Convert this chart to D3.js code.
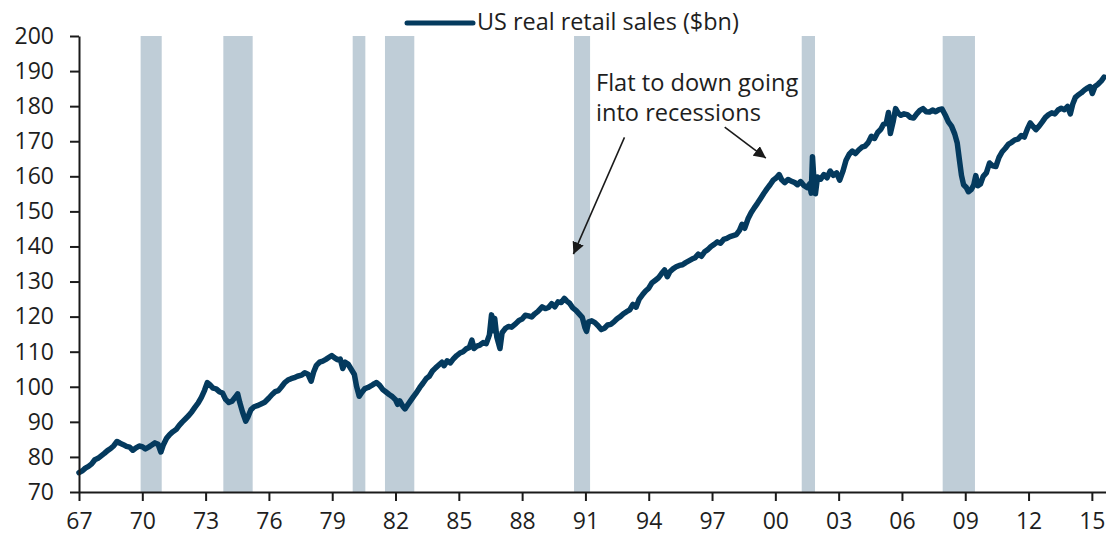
<!DOCTYPE html>
<html>
<head>
<meta charset="utf-8">
<script src="https://cdn.jsdelivr.net/npm/d3@7"></script>
<style>
  body { margin: 0; background: #fff; }
  svg text { font-family: "Open Sans", "Noto Sans", sans-serif; fill: #1e1e1e; }
</style>
</head>
<body>
<svg id="chart" width="1106" height="535"></svg>
<script>
'use strict';

// decimal years of each reading
var years = [
    1967.00, 1967.15, 1967.30, 1967.45, 1967.60, 1967.75, 1967.90, 1968.05, 1968.20, 1968.35,
    1968.50, 1968.65, 1968.80, 1968.95, 1969.10, 1969.25, 1969.40, 1969.55, 1969.70, 1969.85,
    1970.00, 1970.15, 1970.30, 1970.45, 1970.60, 1970.75, 1970.88, 1971.00, 1971.15, 1971.30,
    1971.45, 1971.60, 1971.75, 1971.90, 1972.05, 1972.20, 1972.35, 1972.50, 1972.65, 1972.80,
    1972.95, 1973.08, 1973.20, 1973.35, 1973.50, 1973.65, 1973.80, 1973.95, 1974.10, 1974.25,
    1974.40, 1974.52, 1974.62, 1974.75, 1974.90, 1975.00, 1975.15, 1975.30, 1975.45, 1975.60,
    1975.80, 1976.00, 1976.15, 1976.30, 1976.45, 1976.60, 1976.75, 1976.90, 1977.05, 1977.20,
    1977.35, 1977.55, 1977.70, 1977.85, 1978.00, 1978.12, 1978.25, 1978.40, 1978.55, 1978.70,
    1978.85, 1978.98, 1979.10, 1979.25, 1979.38, 1979.50, 1979.62, 1979.75, 1979.90, 1980.05,
    1980.15, 1980.28, 1980.40, 1980.55, 1980.70, 1980.85, 1981.00, 1981.10, 1981.25, 1981.40,
    1981.55, 1981.70, 1981.85, 1982.00, 1982.10, 1982.20, 1982.35, 1982.45, 1982.55, 1982.70,
    1982.85, 1983.00, 1983.15, 1983.30, 1983.45, 1983.60, 1983.75, 1983.90, 1984.05, 1984.20,
    1984.30, 1984.45, 1984.60, 1984.75, 1984.90, 1985.05, 1985.20, 1985.35, 1985.50, 1985.62,
    1985.72, 1985.85, 1986.00, 1986.15, 1986.30, 1986.45, 1986.55, 1986.62, 1986.70, 1986.80,
    1986.95, 1987.05, 1987.20, 1987.35, 1987.50, 1987.70, 1987.85, 1988.00, 1988.15, 1988.30,
    1988.45, 1988.60, 1988.75, 1988.95, 1989.10, 1989.25, 1989.40, 1989.55, 1989.70, 1989.85,
    1990.00, 1990.12, 1990.25, 1990.40, 1990.55, 1990.70, 1990.85, 1990.97, 1991.05, 1991.15,
    1991.30, 1991.45, 1991.60, 1991.75, 1991.90, 1992.05, 1992.20, 1992.35, 1992.50, 1992.65,
    1992.80, 1992.95, 1993.10, 1993.25, 1993.40, 1993.55, 1993.70, 1993.85, 1994.00, 1994.15,
    1994.30, 1994.45, 1994.60, 1994.75, 1994.88, 1995.00, 1995.15, 1995.30, 1995.45, 1995.60,
    1995.75, 1995.90, 1996.05, 1996.20, 1996.35, 1996.50, 1996.65, 1996.80, 1996.95, 1997.10,
    1997.25, 1997.40, 1997.55, 1997.70, 1997.85, 1998.00, 1998.15, 1998.30, 1998.42, 1998.55,
    1998.70, 1998.85, 1999.00, 1999.15, 1999.30, 1999.45, 1999.60, 1999.75, 1999.90, 2000.05,
    2000.18, 2000.30, 2000.45, 2000.60, 2000.75, 2000.90, 2001.05, 2001.20, 2001.35, 2001.50,
    2001.62, 2001.70, 2001.76, 2001.82, 2001.90, 2002.00, 2002.15, 2002.30, 2002.45, 2002.60,
    2002.75, 2002.90, 2003.05, 2003.20, 2003.35, 2003.50, 2003.65, 2003.80, 2003.95, 2004.10,
    2004.25, 2004.40, 2004.55, 2004.70, 2004.85, 2005.00, 2005.12, 2005.25, 2005.36, 2005.45,
    2005.58, 2005.70, 2005.82, 2005.95, 2006.10, 2006.25, 2006.40, 2006.55, 2006.70, 2006.85,
    2007.00, 2007.15, 2007.30, 2007.45, 2007.60, 2007.75, 2007.90, 2008.05, 2008.20, 2008.35,
    2008.50, 2008.62, 2008.72, 2008.82, 2008.92, 2009.05, 2009.15, 2009.28, 2009.40, 2009.50,
    2009.60, 2009.72, 2009.85, 2010.00, 2010.15, 2010.30, 2010.45, 2010.60, 2010.75, 2010.90,
    2011.05, 2011.20, 2011.35, 2011.50, 2011.65, 2011.80, 2011.95, 2012.08, 2012.20, 2012.35,
    2012.50, 2012.65, 2012.80, 2012.95, 2013.10, 2013.25, 2013.40, 2013.55, 2013.70, 2013.85,
    2013.98, 2014.10, 2014.22, 2014.35, 2014.50, 2014.65, 2014.80, 2014.92, 2015.02, 2015.15,
    2015.30, 2015.45, 2015.58
];

// US real retail sales, $bn
var sales = [
    75.5, 76.0, 76.8, 77.3, 78.0, 79.2, 79.6, 80.3, 81.0, 81.8,
    82.4, 83.2, 84.4, 83.9, 83.5, 83.0, 82.8, 81.9, 82.6, 83.1,
    82.9, 82.3, 82.8, 83.4, 84.0, 83.6, 81.4, 83.5, 85.3, 86.4,
    87.2, 87.8, 89.0, 90.0, 90.9, 91.8, 92.9, 94.2, 95.4, 97.0,
    99.0, 101.2, 100.6, 99.6, 99.4, 98.6, 98.2, 96.4, 95.5, 95.9,
    97.0, 98.0, 95.5, 92.8, 90.2, 91.3, 93.5, 94.3, 94.6, 95.0,
    95.6, 96.8, 97.8, 98.6, 98.9, 100.0, 101.2, 101.9, 102.3, 102.6,
    103.0, 103.3, 104.0, 103.6, 101.6, 104.2, 106.1, 107.0, 107.3, 107.8,
    108.4, 108.9, 108.3, 107.7, 107.9, 105.2, 107.0, 106.5, 105.0, 103.5,
    100.2, 97.3, 98.4, 99.5, 99.8, 100.3, 100.9, 101.2, 100.4, 99.2,
    98.5, 97.8, 97.2, 96.3, 95.0, 96.0, 94.4, 93.7, 94.6, 95.9,
    97.2, 98.4, 99.8, 101.0, 102.3, 103.0, 104.5, 105.4, 106.2, 107.0,
    106.0, 107.4, 106.8, 108.0, 108.9, 109.6, 110.0, 110.8, 111.2, 113.3,
    110.9, 111.6, 111.9, 112.6, 112.3, 114.8, 120.5, 116.0, 119.5, 114.2,
    110.9, 115.4, 116.6, 117.2, 117.0, 118.0, 118.9, 119.3, 120.4, 120.2,
    119.9, 120.8, 121.5, 122.8, 122.3, 122.6, 123.7, 122.8, 124.2, 124.0,
    125.2, 124.4, 123.8, 122.5, 121.8, 120.8, 119.8, 117.0, 115.8, 118.5,
    118.8, 118.3, 117.4, 116.3, 116.7, 117.6, 117.8, 118.5, 119.4, 120.0,
    120.8, 121.4, 121.9, 123.5, 122.7, 125.0, 126.2, 127.3, 128.1, 129.6,
    130.3, 131.0, 132.2, 133.3, 131.4, 132.8, 133.6, 134.2, 134.6, 134.8,
    135.4, 135.9, 136.4, 136.8, 137.8, 137.2, 138.5, 139.1, 140.0, 140.6,
    141.3, 140.9, 142.0, 142.3, 142.8, 143.1, 143.4, 144.6, 146.3, 145.2,
    147.8, 149.6, 151.0, 152.3, 153.7, 155.1, 156.4, 157.6, 158.9, 159.6,
    160.5, 159.0, 158.2, 159.1, 158.6, 158.3, 157.6, 158.5, 157.4, 156.8,
    157.8, 155.2, 165.6, 159.8, 155.0, 159.8, 159.2, 160.5, 159.6, 161.5,
    160.3, 161.0, 158.9, 161.4, 164.6, 166.3, 167.2, 166.5, 167.5, 168.3,
    168.6, 169.6, 171.4, 170.8, 172.5, 173.4, 174.8, 175.0, 178.2, 172.2,
    175.5, 179.3, 178.0, 177.4, 177.8, 177.6, 176.8, 176.6, 177.8, 178.8,
    179.3, 178.4, 178.3, 178.9, 178.4, 179.0, 179.2, 177.5, 175.5, 174.3,
    172.1, 169.5, 164.8, 160.3, 157.6, 156.8, 155.6, 156.2, 157.5, 160.2,
    157.3, 157.8, 160.0, 161.0, 163.8, 163.0, 162.8, 165.4, 167.0, 168.0,
    169.2, 169.7, 170.4, 170.6, 171.6, 171.2, 173.6, 175.2, 174.3, 173.3,
    174.3, 175.5, 176.8, 177.6, 178.1, 177.8, 178.9, 179.4, 179.0, 179.9,
    177.8, 180.7, 182.5, 183.2, 183.8, 184.6, 185.2, 185.6, 183.6, 185.6,
    186.3, 187.2, 188.3
];

// NBER recessions (start / end, decimal years)
var recessionStart = [1969.92, 1973.84, 1979.97, 1981.50, 1990.46, 2001.25, 2007.93];
var recessionEnd   = [1970.92, 1975.23, 1980.57, 1982.89, 1991.22, 2001.88, 2009.46];

var yTicks = [70, 80, 90, 100, 110, 120, 130, 140, 150, 160, 170, 180, 190, 200];
var xTicks = [1967, 1970, 1973, 1976, 1979, 1982, 1985, 1988, 1991, 1994, 1997, 2000, 2003, 2006, 2009, 2012, 2015];

var seriesName = "US real retail sales ($bn)";
var noteLines = ["Flat to down going", "into recessions"];

var svg = d3.select("#chart"),
    width = 1106,
    height = 535,
    margin = { top: 36, right: 0, bottom: 43, left: 79 };

var x = d3.scaleLinear()
    .domain([1967, 2015.67])
    .range([margin.left, width - margin.right]);

var y = d3.scaleLinear()
    .domain([70, 200])
    .range([height - margin.bottom, margin.top]);

var navy = "#043a5e";

// recession bands
svg.append("g").selectAll("rect")
    .data(recessionStart)
    .enter()
    .append("rect")
    .attr("x", function (d) { return x(d); })
    .attr("width", function (d, i) { return x(recessionEnd[i]) - x(d); })
    .attr("y", y(200))
    .attr("height", y(70) - y(200))
    .style("fill", "#bfcdd7");

// series line
var points = years.map(function (d, i) { return [d, sales[i]]; });
var line = d3.line()
    .x(function (d) { return x(d[0]); })
    .y(function (d) { return y(d[1]); })
    .curve(d3.curveLinear);

svg.append("path")
    .datum(points)
    .attr("d", line)
    .style("fill", "none")
    .style("stroke", navy)
    .style("stroke-width", 5.5)
    .style("stroke-linejoin", "round")
    .style("stroke-linecap", "round");

// axes
var yAxis = svg.append("g")
    .attr("transform", "translate(" + margin.left + ",0)")
    .call(d3.axisLeft(y).tickValues(yTicks).tickSize(9).tickSizeOuter(0).tickPadding(16));

var xAxis = svg.append("g")
    .attr("transform", "translate(0," + y(70) + ")")
    .call(d3.axisBottom(x).tickValues(xTicks).tickSize(9).tickSizeOuter(0).tickPadding(12)
        .tickFormat(function (d) { return String(d % 100).padStart(2, "0"); }));

[yAxis, xAxis].forEach(function (ax) {
    ax.selectAll("path, line").style("stroke", "#1a1a1a").style("stroke-width", 2);
    ax.selectAll("text")
        .style("font-family", "'Open Sans', sans-serif")
        .style("font-size", "23px")
        .style("fill", "#1e1e1e");
});

// legend
var legend = svg.append("g");
legend.append("line")
    .attr("x1", 407).attr("x2", 473)
    .attr("y1", 23).attr("y2", 23)
    .style("stroke", navy)
    .style("stroke-width", 5)
    .style("stroke-linecap", "round");
legend.append("text")
    .attr("x", 477)
    .attr("y", 30)
    .style("font-size", "23.4px")
    .text(seriesName);

// annotation
svg.append("defs").append("marker")
    .attr("id", "arrow")
    .attr("viewBox", "0 0 10 10")
    .attr("refX", 10).attr("refY", 5)
    .attr("markerWidth", 12).attr("markerHeight", 12)
    .attr("markerUnits", "userSpaceOnUse")
    .attr("orient", "auto")
    .append("path")
    .attr("d", "M0,0 L10,5 L0,10 Z")
    .style("fill", "#1a1a1a");

var note = svg.append("text")
    .attr("x", x(1991.5))
    .attr("y", y(184.2))
    .style("font-size", "23.6px");
note.selectAll("tspan")
    .data(noteLines)
    .enter()
    .append("tspan")
    .attr("x", x(1991.5))
    .attr("dy", function (d, i) { return i === 0 ? 0 : 30; })
    .text(function (d) { return d; });

var arrows = [
    { from: [1992.85, 171.1], to: [1990.43, 137.8] },
    { from: [1997.6, 174.0], to: [1999.55, 165.2] }
];
svg.append("g").selectAll("line")
    .data(arrows)
    .enter()
    .append("line")
    .attr("x1", function (d) { return x(d.from[0]); })
    .attr("y1", function (d) { return y(d.from[1]); })
    .attr("x2", function (d) { return x(d.to[0]); })
    .attr("y2", function (d) { return y(d.to[1]); })
    .style("stroke", "#1a1a1a")
    .style("stroke-width", 1.6)
    .attr("marker-end", "url(#arrow)");
</script>
</body>
</html>
